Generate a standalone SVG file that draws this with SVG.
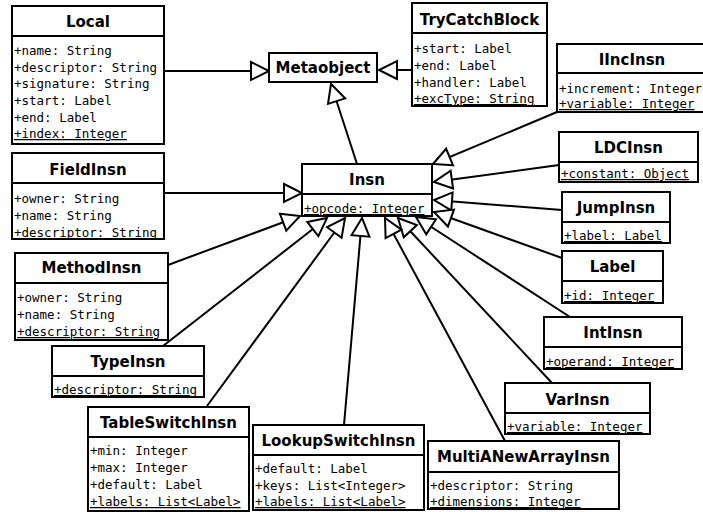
<svg xmlns="http://www.w3.org/2000/svg" width="703" height="512" viewBox="0 0 703 512">
<style>
.box{fill:#fff;stroke:#000;stroke-width:2}
.sep{stroke:#000;stroke-width:2}
.t{font-family:"DejaVu Sans",sans-serif;font-weight:bold;font-size:15px;text-anchor:middle;fill:#000}
.a{font-family:"DejaVu Sans Mono",monospace;font-size:12.5px;fill:#000}
.u{text-decoration:underline}
.c line{stroke:#000;stroke-width:2;marker-end:url(#tri)}
</style>
<defs>
<marker id="tri" markerUnits="userSpaceOnUse" markerWidth="20" markerHeight="20" refX="18" refY="9" orient="auto" overflow="visible">
<path d="M0,0 L18,9 L0,18 Z" fill="#fff" stroke="#000" stroke-width="2"/>
</marker>
</defs>
<rect width="703" height="512" fill="#fff"/>
<g class="c" id="connectors">
<line x1="164" y1="71" x2="269" y2="71"/>
<line x1="412" y1="70" x2="379" y2="70"/>
<line x1="357" y1="164" x2="331" y2="84"/>
<line x1="557" y1="112" x2="433" y2="164"/>
<line x1="559" y1="165" x2="434" y2="182"/>
<line x1="562" y1="210" x2="434" y2="200"/>
<line x1="562" y1="258" x2="434" y2="212"/>
<line x1="570" y1="317" x2="416" y2="217"/>
<line x1="552" y1="383" x2="398" y2="218"/>
<line x1="505" y1="441" x2="385" y2="218"/>
<line x1="344" y1="425" x2="362" y2="218"/>
<line x1="207" y1="406" x2="345" y2="218"/>
<line x1="163" y1="346" x2="327" y2="218"/>
<line x1="168" y1="265" x2="300" y2="216"/>
<line x1="164" y1="193" x2="302" y2="193"/>
</g>
<g id="Local">
<rect class="box" x="12" y="6" width="152" height="138"/>
<line class="sep" x1="12" y1="36" x2="164" y2="36"/>
<text class="t" x="88" y="27">Local</text>
<text class="a" x="14" y="55">+name: String</text>
<text class="a" x="14" y="72">+descriptor: String</text>
<text class="a" x="14" y="88">+signature: String</text>
<text class="a" x="14" y="105">+start: Label</text>
<text class="a" x="14" y="122">+end: Label</text>
<text class="a u" x="14" y="138">+index: Integer</text>
</g>
<g id="Metaobject">
<rect class="box" x="269" y="53" width="108" height="29"/>
<text class="t" x="323" y="73">Metaobject</text>
</g>
<g id="TryCatchBlock">
<rect class="box" x="412" y="3" width="135" height="103"/>
<line class="sep" x1="412" y1="33" x2="547" y2="33"/>
<text class="t" x="479.500" y="25">TryCatchBlock</text>
<text class="a" x="414" y="53">+start: Label</text>
<text class="a" x="414" y="70">+end: Label</text>
<text class="a" x="414" y="87">+handler: Label</text>
<text class="a u" x="414" y="103">+excType: String</text>
</g>
<g id="IIncInsn">
<rect class="box" x="557" y="44" width="150" height="68"/>
<line class="sep" x1="557" y1="73" x2="707" y2="73"/>
<text class="t" x="632" y="65">IIncInsn</text>
<text class="a" x="559" y="93">+increment: Integer</text>
<text class="a u" x="559" y="108">+variable: Integer</text>
</g>
<g id="FieldInsn">
<rect class="box" x="12" y="153" width="152" height="86"/>
<line class="sep" x1="12" y1="183" x2="164" y2="183"/>
<text class="t" x="88" y="175">FieldInsn</text>
<text class="a" x="14" y="203">+owner: String</text>
<text class="a" x="14" y="220">+name: String</text>
<text class="a u" x="14" y="237">+descriptor: String</text>
</g>
<g id="Insn">
<rect class="box" x="302" y="164" width="130" height="52"/>
<line class="sep" x1="302" y1="194" x2="432" y2="194"/>
<text class="t" x="367" y="185">Insn</text>
<text class="a u" x="304" y="213">+opcode: Integer</text>
</g>
<g id="LDCInsn">
<rect class="box" x="559" y="132" width="139" height="50"/>
<line class="sep" x1="559" y1="162" x2="698" y2="162"/>
<text class="t" x="628.500" y="153">LDCInsn</text>
<text class="a u" x="561" y="178">+constant: Object</text>
</g>
<g id="JumpInsn">
<rect class="box" x="562" y="192" width="108" height="51"/>
<line class="sep" x1="562" y1="222" x2="670" y2="222"/>
<text class="t" x="616" y="213">JumpInsn</text>
<text class="a u" x="564" y="240">+label: Label</text>
</g>
<g id="MethodInsn">
<rect class="box" x="15" y="253" width="153" height="87"/>
<line class="sep" x1="15" y1="283" x2="168" y2="283"/>
<text class="t" x="91.500" y="273">MethodInsn</text>
<text class="a" x="17" y="302">+owner: String</text>
<text class="a" x="17" y="319">+name: String</text>
<text class="a u" x="17" y="336">+descriptor: String</text>
</g>
<g id="Label">
<rect class="box" x="562" y="251" width="101" height="52"/>
<line class="sep" x1="562" y1="281" x2="663" y2="281"/>
<text class="t" x="612.500" y="272">Label</text>
<text class="a u" x="564" y="300">+id: Integer</text>
</g>
<g id="IntInsn">
<rect class="box" x="544" y="317" width="138" height="52"/>
<line class="sep" x1="544" y1="347" x2="682" y2="347"/>
<text class="t" x="613" y="338">IntInsn</text>
<text class="a u" x="546" y="366">+operand: Integer</text>
</g>
<g id="TypeInsn">
<rect class="box" x="52" y="346" width="152" height="51"/>
<line class="sep" x1="52" y1="376" x2="204" y2="376"/>
<text class="t" x="128" y="367">TypeInsn</text>
<text class="a u" x="54" y="394">+descriptor: String</text>
</g>
<g id="VarInsn">
<rect class="box" x="505" y="383" width="145" height="51"/>
<line class="sep" x1="505" y1="413" x2="650" y2="413"/>
<text class="t" x="577.500" y="405">VarInsn</text>
<text class="a u" x="507" y="431">+variable: Integer</text>
</g>
<g id="TableSwitchInsn">
<rect class="box" x="88" y="407" width="161" height="104"/>
<line class="sep" x1="88" y1="437" x2="249" y2="437"/>
<text class="t" x="168.500" y="428">TableSwitchInsn</text>
<text class="a" x="90" y="455">+min: Integer</text>
<text class="a" x="90" y="472">+max: Integer</text>
<text class="a" x="90" y="489">+default: Label</text>
<text class="a u" x="90" y="506">+labels: List&lt;Label&gt;</text>
</g>
<g id="LookupSwitchInsn">
<rect class="box" x="253" y="425" width="171" height="85"/>
<line class="sep" x1="253" y1="455" x2="424" y2="455"/>
<text class="t" x="338.500" y="446">LookupSwitchInsn</text>
<text class="a" x="255" y="473">+default: Label</text>
<text class="a" x="255" y="490">+keys: List&lt;Integer&gt;</text>
<text class="a u" x="255" y="506">+labels: List&lt;Label&gt;</text>
</g>
<g id="MultiANewArrayInsn">
<rect class="box" x="428" y="441" width="191" height="68"/>
<line class="sep" x1="428" y1="472" x2="619" y2="472"/>
<text class="t" x="523.500" y="462">MultiANewArrayInsn</text>
<text class="a" x="430" y="490">+descriptor: String</text>
<text class="a u" x="430" y="506">+dimensions: Integer</text>
</g>
</svg>
